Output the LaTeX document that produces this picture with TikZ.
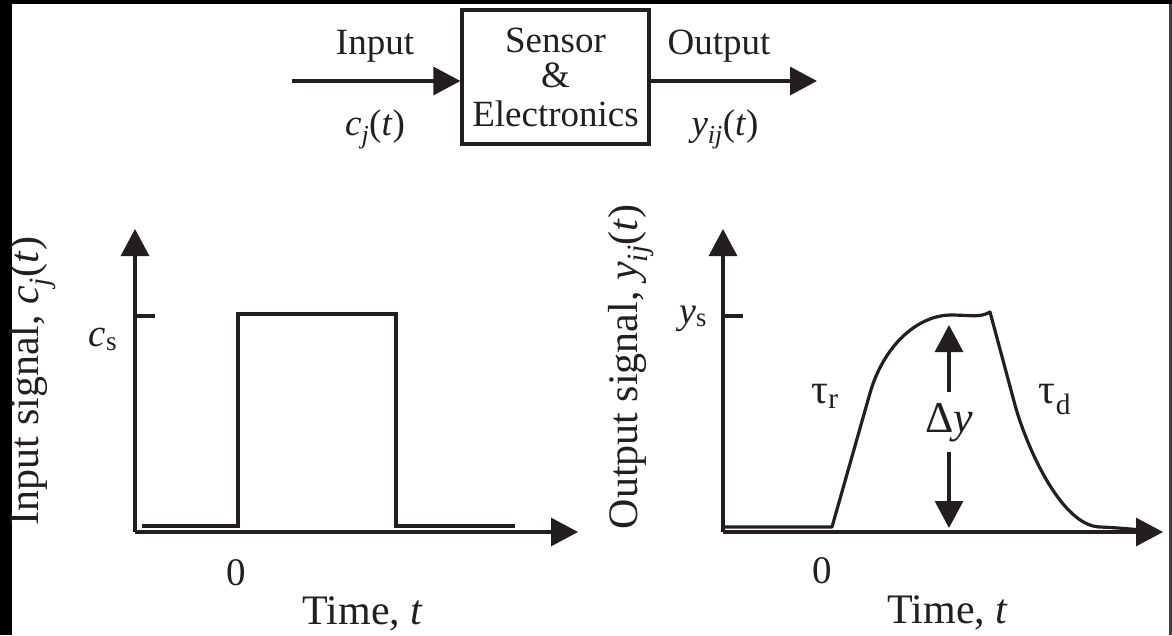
\documentclass[tikz,border=0pt]{standalone}
\usepackage{fontspec}
\setmainfont{Liberation Serif}
\usetikzlibrary{arrows.meta}
\definecolor{ink}{HTML}{231F20}
\begin{document}
\begin{tikzpicture}[x=1pt,y=-1pt,
  ln/.style={draw=ink, line width=3.2pt},
  arr/.style={ln, -{Triangle[length=27pt,width=28pt]}},
  lbl/.style={text=ink, inner sep=0pt, font=\fontsize{37}{38}\selectfont},
  axl/.style={text=ink, inner sep=0pt, font=\fontsize{42}{46}\selectfont},
]
\useasboundingbox (0,0) rectangle (1172,635);
\fill[white] (0,0) rectangle (1172,635);
\fill[black] (0,0) rectangle (12,635);
\fill[black] (0,0) rectangle (1172,4);
\fill[black!75] (1169,4) rectangle (1172,635);

% ---------- top block ----------
\node[ln, text=ink, align=center, minimum width=187pt, minimum height=134pt,
      inner sep=0pt, font=\fontsize{37}{38}\selectfont] (box) at (555.5,77)
  {Sensor\\[-3pt]\&\\[1pt]Electronics};
\coordinate (inS) at (292,81);
\coordinate (outE) at (817,81);
\draw[arr] (inS) -- (inS -| box.west);
\draw[arr] (outE -| box.east) -- (outE);
\node[lbl, anchor=base] (inlbl) at (375,54) {Input};
\node[lbl, anchor=base] (cjt) at (375,135) {\textit{c}\textsubscript{\textit{j}}(\textit{t})};
\node[lbl, anchor=base] (outlbl) at (719,54) {Output};
\node[lbl, anchor=base] (yijt) at (725,135) {\textit{y}\textsubscript{\textit{ij}}(\textit{t})};

% ---------- left plot ----------
\coordinate (LO) at (135,532);
\coordinate (LY) at (135,229);
\coordinate (LX) at (578,532);
\draw[arr] (LO) -- (LY);
\draw[arr] (LO) -- (LX);
\coordinate (LT1) at (135,316);
\coordinate (LT2) at (155,316);
\draw[ln] (LT1) -- (LT2);
\draw[ln, line join=miter] (142,526) -- (238,526) -- (238,314) -- (396,314) -- (396,526) -- (515,526);
\node[axl, rotate=90] (inax) at (33,381) {Input signal, \textit{c}\textsubscript{\textit{j}}(\textit{t})};
\node[axl, anchor=base, font=\fontsize{39}{40}\selectfont] (cs) at (103,346) {\textit{c}\textsubscript{s}};
\node[axl, anchor=base, font=\fontsize{39}{40}\selectfont] (zeroL) at (236,585) {0};
\node[axl, anchor=base] (timeL) at (363,624) {Time, \textit{t}};

% ---------- right plot ----------
\coordinate (RO) at (723,532);
\coordinate (RY) at (723,229);
\coordinate (RX) at (1163,532);
\draw[arr] (RO) -- (RY);
\draw[arr] (RO) -- (RX);
\coordinate (RT1) at (723,316);
\coordinate (RT2) at (743,316);
\draw[ln] (RT1) -- (RT2);
\draw[ln, line join=round] (723,527) -- (832,527) -- (870,393)
  .. controls (883,348) and (915,316) .. (950,315)
  .. controls (970,315) and (980,318) .. (990,312)
  -- (1015,405)
  .. controls (1025,442) and (1060,526) .. (1100,527)
  .. controls (1125,528) and (1135,530) .. (1150,530);
\node[axl, rotate=90] (outax) at (631,367) {Output signal, \textit{y}\textsubscript{\textit{ij}}(\textit{t})};
\node[axl, anchor=base, font=\fontsize{38}{40}\selectfont] (ys) at (693,323) {\textit{y}\textsubscript{s}};
\node[axl, anchor=base, font=\fontsize{39}{40}\selectfont] (zeroR) at (822,583) {0};
\node[axl, anchor=base] (timeR) at (948,623) {Time, \textit{t}};
\node[axl, anchor=base] (taur) at (825,403) {τ\textsubscript{r}};
\node[axl, anchor=base] (taud) at (1055,403) {τ\textsubscript{d}};
\node[axl, font=\fontsize{44}{46}\selectfont, inner ysep=10pt, text height=30pt, text depth=10pt] (dy) at (949,422) {Δ\textit{y}};
\coordinate (dytop) at (949,325);
\coordinate (dybot) at (949,528);
\draw[arr] (dy.north) -- (dytop);
\draw[arr] (dy.south) -- (dybot);
\end{tikzpicture}
\end{document}
